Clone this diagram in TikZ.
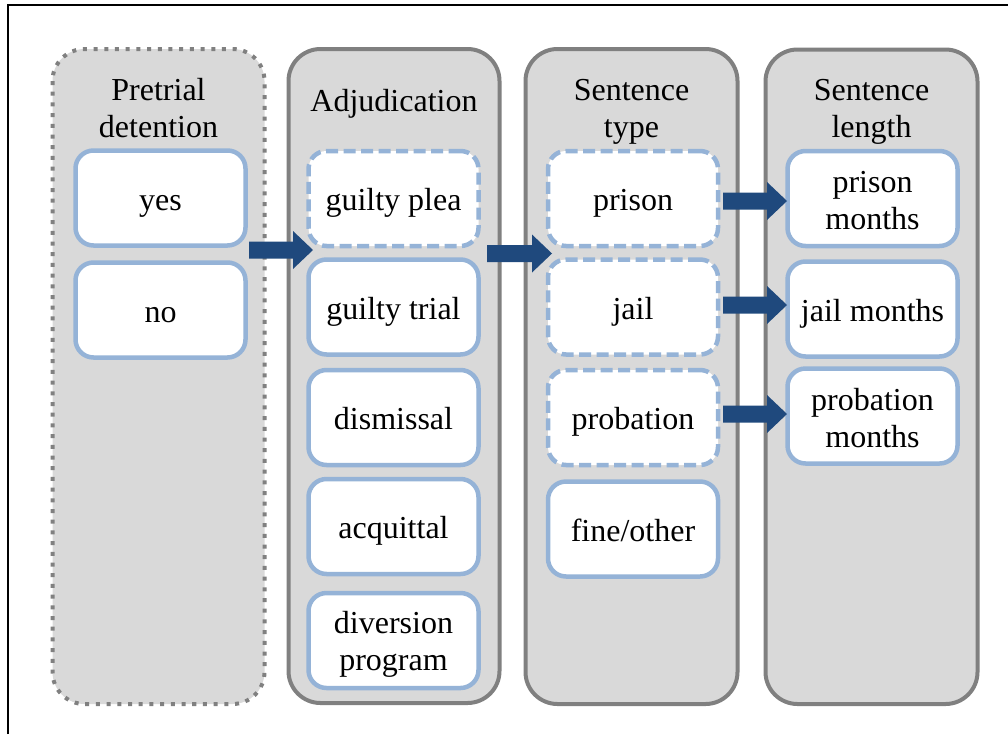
\documentclass[tikz,border=0pt]{standalone}
\usepackage{fontspec}
\setmainfont{Liberation Serif}
\usetikzlibrary{calc}
\definecolor{colfill}{HTML}{D9D9D9}
\definecolor{colborder}{HTML}{808080}
\definecolor{boxborder}{HTML}{95B3D7}
\definecolor{arrowblue}{HTML}{1F497D}
\newcommand\blockarrow[2]{\fill[arrowblue] let \p1=(#1), \p2=(#2) in
  (\x1,{\y1-8.5pt}) -- ({\x2-20pt},{\y1-8.5pt}) -- ({\x2-20pt},{\y1-19pt}) -- (\x2,\y1)
  -- ({\x2-20pt},{\y1+19pt}) -- ({\x2-20pt},{\y1+8.5pt}) -- (\x1,{\y1+8.5pt}) -- cycle;}
\begin{document}
\begin{tikzpicture}[x=1pt,y=-1pt,
  column/.style={draw=colborder, fill=colfill, line width=4pt, rounded corners=32pt},
  dottedcol/.style={column, dash pattern=on 4pt off 6.7pt},
  box/.style={draw=boxborder, fill=white, line width=4.5pt, rounded corners=18pt,
    minimum width=170pt, minimum height=95pt, align=center,
    font=\fontsize{32}{37}\selectfont, inner sep=0pt},
  one/.style={text height=27pt, text depth=2.4pt},
  dbox/.style={box, dash pattern=on 12pt off 5.5pt},
  title/.style={align=center, font=\fontsize{32}{37}\selectfont, inner sep=0pt},
]
\useasboundingbox (0,0) rectangle (1008,734);
\draw[black, line width=2pt] (7.5,734) -- (7.5,4.5) -- (1008,4.5);

\draw[dottedcol] (52.5,49) rectangle (264.5,704);
\draw[column] (288.5,49) rectangle (499.5,703);
\draw[column] (525.5,49) rectangle (737.5,704);
\draw[column] (765.5,49.5) rectangle (977.5,704);

\node[title] (t1) at (158.5,108.5) {Pretrial\\detention};
\node[title] (t2) at (394,104) {Adjudication};
\node[title] (t3) at (631.5,111.5) {Sentence\\type};
\node[title] (t4) at (871.5,111.5) {Sentence\\length};

\node[box,one] (yes) at (160.5,198) {yes};
\node[box,one] (no) at (160.5,310) {no};

\node[dbox,one] (plea) at (393.5,198.5) {guilty plea};
\node[box,one] (trial) at (393.5,307) {guilty trial};
\node[box,one] (dismissal) at (393.5,417.5) {dismissal};
\node[box,one] (acquittal) at (393.5,526.5) {acquittal};
\node[box] (diversion) at (393.5,640.5) {\rule{0pt}{30pt}diversion\\program};

\node[dbox,one] (prison) at (633,198.5) {prison};
\node[dbox,one] (jail) at (633,307) {jail};
\node[dbox,one] (probation) at (633,417.5) {probation};
\node[box,one] (fine) at (633,529) {fine/other};

\node[box] (pmonths) at (872.5,198.5) {\rule{0pt}{26pt}prison\\months};
\node[box,one] (jmonths) at (872.5,309) {jail months};
\node[box] (bmonths) at (872.5,416) {\rule{0pt}{26pt}probation\\months};

\coordinate (a1s) at ($(yes.south east)+(1.25,2.25)$);
\coordinate (a1e) at ($(plea.south west)+(6.75,1.75)$);
\coordinate (a2s) at ($(plea.south east)+(6.25,5.25)$);
\coordinate (a2e) at ($(prison.south west)+(6.25,5.25)$);
\coordinate (a3s) at ($(prison.east)+(2.75,2.5)$);
\coordinate (a3e) at ($(pmonths.west)+(1.75,2.5)$);
\coordinate (a4s) at ($(jail.east)+(2.75,-2)$);
\coordinate (a4e) at ($(jmonths.west)+(1.75,-4)$);
\coordinate (a5s) at ($(probation.east)+(2.75,-3.5)$);
\coordinate (a5e) at ($(bmonths.west)+(1.75,-2)$);
\blockarrow{a1s}{a1e}
\blockarrow{a2s}{a2e}
\blockarrow{a3s}{a3e}
\blockarrow{a4s}{a4e}
\blockarrow{a5s}{a5e}
\end{tikzpicture}
\end{document}
